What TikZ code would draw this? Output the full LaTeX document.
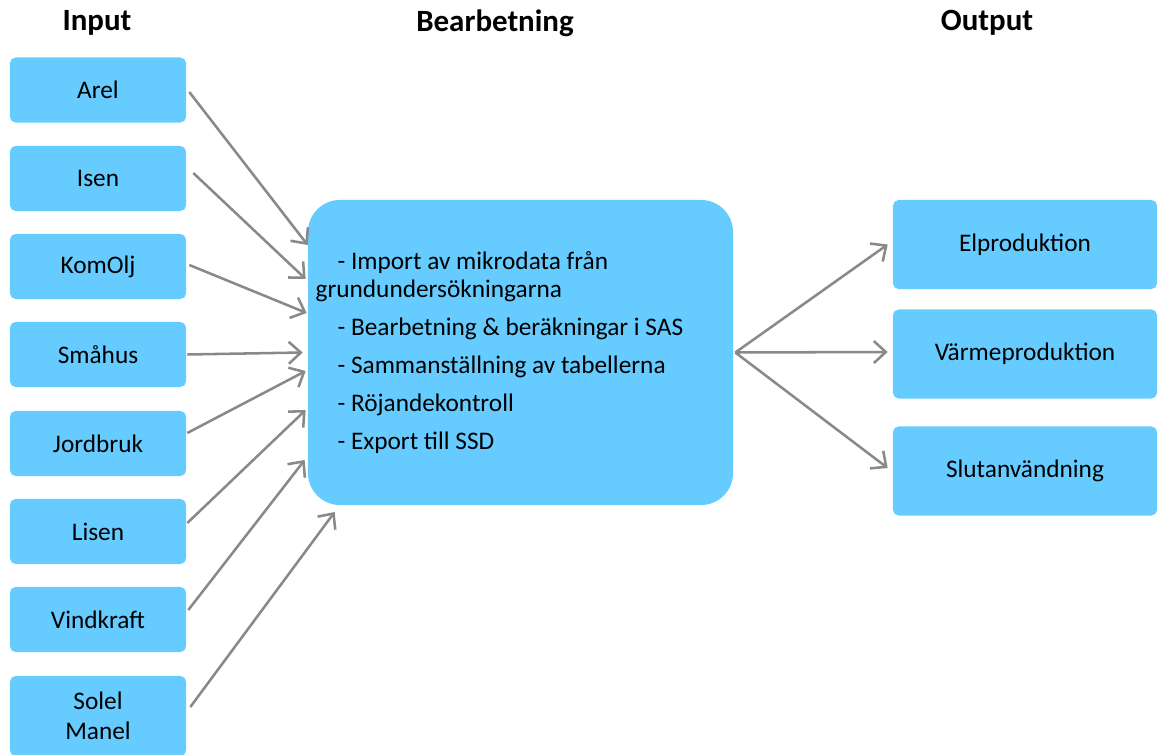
\documentclass[tikz,border=0pt]{standalone}
\usepackage{fontspec}
\setmainfont{Carlito}
\usepackage{tikz}
\usetikzlibrary{arrows.meta, calc}
\definecolor{rutblå}{RGB}{102, 204, 255}
\definecolor{pilgrå}{RGB}{137, 137, 137}

\begin{document}
\begin{tikzpicture}[
    x=0.025cm, y=-0.025cm,
    font=\fontsize{18}{21}\selectfont,
    ruta/.style={fill=rutblå, rounded corners=4pt, minimum width=4.4cm,
                 minimum height=1.625cm, align=center, inner sep=0pt},
    utruta/.style={ruta, minimum width=6.6cm, minimum height=2.225cm},
    rubrik/.style={font=\fontsize{22}{26}\selectfont\bfseries},
    pil/.style={-{Straight Barb[length=3mm, width=5.5mm]}, line width=1.8pt, pilgrå}
  ]
    \useasboundingbox (0,0) rectangle (1160,755);
    % Rubriker ovanför de tre kolumnerna.
    \node[rubrik] (hin) at (97,23) {Input};
    \node[rubrik] (hbe) at (495,23) {Bearbetning};
    \node[rubrik] (hut) at (987,23) {Output};
    \node[ruta] (arel) at (98,90) {Arel};
    \node[ruta] (isen) at (98,178.5) {Isen};
    \node[ruta] (komolj) at (98,266.5) {KomOlj};
    \node[ruta] (smahus) at (98,354.5) {Småhus};
    \node[ruta] (jordbruk) at (98,443.5) {Jordbruk};
    \node[ruta] (lisen) at (98,531.5) {Lisen};
    \node[ruta] (vindkraft) at (98,619.5) {Vindkraft};
    \node[ruta, minimum height=2cm] (solel) at (98,716) {Solel\\Manel};
    \node[fill=rutblå, rounded corners=0.8cm, minimum width=10.625cm, minimum height=7.625cm,
          align=left, inner sep=0pt, font=\fontsize{18}{20}\selectfont] (bearb) at (520.5,352.5)
      {\hspace*{15.6pt}- Import av mikrodata från\\
       grundundersökningarna\\[7pt]
       \hspace*{15.6pt}- Bearbetning \& beräkningar i SAS\hspace*{30pt}\mbox{}\\[7pt]
       \hspace*{15.6pt}- Sammanställning av tabellerna\\[7pt]
       \hspace*{15.6pt}- Röjandekontroll\\[7pt]
       \hspace*{15.6pt}- Export till SSD};
    \node[utruta] (elprod) at (1025,244.5) {Elproduktion};
    \node[utruta] (varme) at (1025,354) {Värmeproduktion};
    \node[utruta] (slut) at (1025,471) {Slutanvändning};
    \foreach \kalla/\sx/\sy/\mx/\my in {arel/3/2/0/-107.5, isen/7/-5.5/-2/-73.5,
        komolj/3/-1.5/-1/-39.5, smahus/1/0/-5/0, jordbruk/1/-10.5/-2/18.5,
        lisen/1/-8.5/-2/57.5, vindkraft/2/-9.5/-3/107.5, solel/4/-9/27/159.5} {
      \draw[pil] ($(\kalla.east)+(\sx,\sy)$) -- ($(bearb.west)+(\mx,\my)$);
    }
    \foreach \mal/\dy in {elprod/0, varme/-2, slut/-3} {
      \draw[pil] ($(bearb.east)+(2,0)$) -- ($(\mal.west)+(-5,\dy)$);
    }
  \end{tikzpicture}
\end{document}
